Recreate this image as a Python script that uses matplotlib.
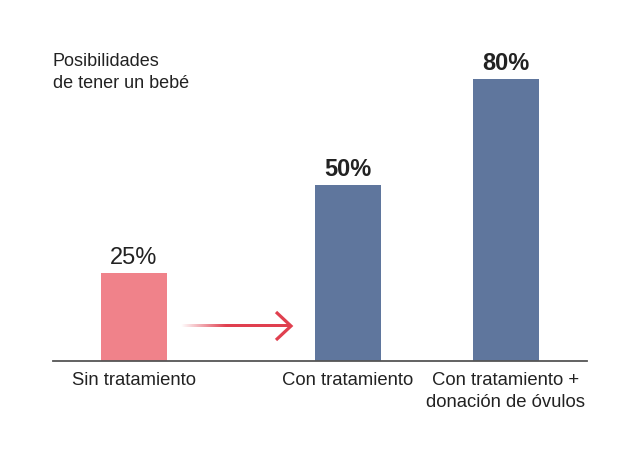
import numpy as np
import matplotlib
matplotlib.use("Agg")
import matplotlib.pyplot as plt

categories = ["Sin tratamiento", "Con tratamiento", "Con tratamiento +\ndonación de óvulos"]
values = [25, 50, 80]
value_labels = ["25%", "50%", "80%"]
title = "Posibilidades\nde tener un bebé"

plt.rcParams['font.family'] = ['Liberation Sans', 'DejaVu Sans']

W, H = 640, 458
base_px = 361          # baseline in pixels from top
scale = 3.52           # pixels per percent
fig = plt.figure(figsize=(W / 100, H / 100), dpi=100)
ax = fig.add_axes([0, 0, 1, 1])
ax.set_xlim(0, W)
ax.set_ylim(-(H - base_px) / scale, base_px / scale)
ax.axis('off')


def py(px):
    # pixel row -> value units
    return (base_px - px) / scale


xpos = [134, 348, 506]
colors = ['#f0828a', '#5f769d', '#5f769d']
ax.bar(xpos, values, width=66, color=colors, zorder=2)

ax.plot([53, 587], [0, 0], color='#555555', lw=1.3, zorder=3)

txt = '#222222'
for i in range(len(values)):
    bold = i > 0
    ax.text(xpos[i], values[i] + 9.5 / scale, value_labels[i], ha='center', va='baseline',
            fontsize=17, color=txt, fontweight='bold' if bold else 'normal')
    ax.text(xpos[i], py(372), categories[i], ha='center', va='top', fontsize=13.3,
            color=txt, linespacing=1.35)

ax.text(53, py(53), title, ha='left', va='top', fontsize=13, color=txt, linespacing=1.35)

# arrow with fading tail
red = np.array([0.88, 0.25, 0.31])
ay = py(326)
x0, x1 = 181, 290
n = 200
grad = np.zeros((1, n, 4))
grad[0, :, :3] = red
grad[0, :, 3] = np.clip(np.linspace(0, (x1 - x0) / 45, n), 0, 1)
half = 1.5 / scale
ax.imshow(grad, extent=[x0, x1, ay - half, ay + half], aspect='auto',
          interpolation='bilinear', zorder=2)
ax.set_xlim(0, W)
ax.set_ylim(-(H - base_px) / scale, base_px / scale)
ax.plot([276, 291, 276], [py(312), ay, py(340)], color=red, lw=2.3,
        solid_joinstyle='miter', solid_capstyle='butt')

fig.savefig('out.png', dpi=100)
